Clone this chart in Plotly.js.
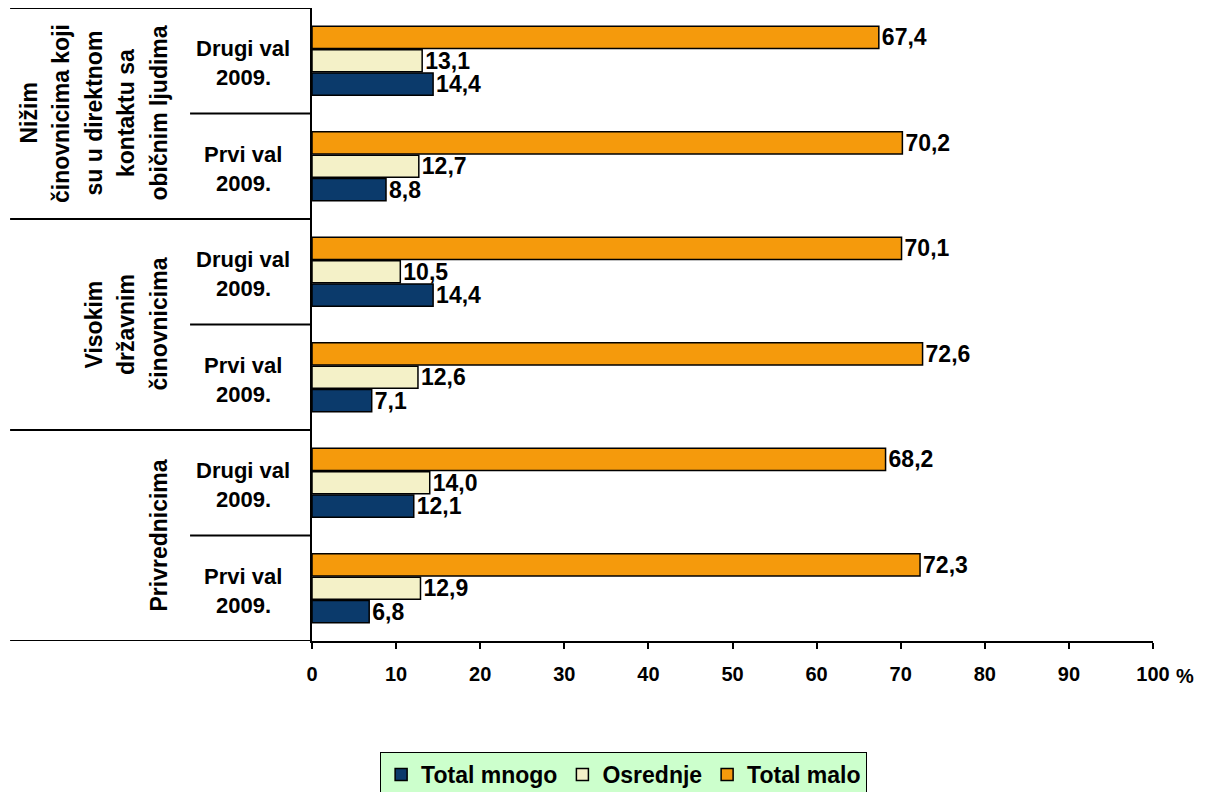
<!DOCTYPE html>
<html>
<head>
<meta charset="utf-8">
<script src="https://cdn.plot.ly/plotly-3.0.1.min.js"></script>
<style>
html,body{margin:0;padding:0;background:#fff;}
#chart{width:1205px;height:792px;}
</style>
</head>
<body>
<div id="chart"></div>
<script>
// Categories, top to bottom as read in the chart
const groupLines = [
  ["Nižim", "činovnicima koji", "su u direktnom", "kontaktu sa", "običnim ljudima"],
  ["Visokim", "državnim", "činovnicima"],
  ["Privrednicima"]
];
const waves = [["Drugi val", "2009."], ["Prvi val", "2009."]];
const categoryIds = [
  "Nižim – Drugi val 2009.", "Nižim – Prvi val 2009.",
  "Visokim – Drugi val 2009.", "Visokim – Prvi val 2009.",
  "Privrednicima – Drugi val 2009.", "Privrednicima – Prvi val 2009."
];
const seriesNames = ["Total mnogo", "Osrednje", "Total malo"];
const totalMnogo = [14.4, 8.8, 14.4, 7.1, 12.1, 6.8];
const osrednje   = [13.1, 12.7, 10.5, 12.6, 14.0, 12.9];
const totalMalo  = [67.4, 70.2, 70.1, 72.6, 68.2, 72.3];
const xTicks = [0, 10, 20, 30, 40, 50, 60, 70, 80, 90, 100];

const seriesValues = [totalMnogo, osrednje, totalMalo];
const seriesColors = ["#0B3A6B", "#F4F1C8", "#F59A0C"];

const FONT = "Liberation Sans, Arial, sans-serif";
const fmt = v => v.toFixed(1).replace('.', ',');

const traces = seriesNames.map((name, s) => ({
  type: 'bar',
  orientation: 'h',
  name: name,
  y: categoryIds,
  x: seriesValues[s],
  text: seriesValues[s].map(fmt),
  textposition: 'outside',
  constraintext: 'none',
  cliponaxis: false,
  textfont: {family: FONT, size: 23, color: '#000', weight: 'bold'},
  marker: {color: seriesColors[s], line: {color: '#000', width: 1.5}},
  hoverinfo: 'x+name'
}));

const annotations = [];
const shapes = [];
// wave (sub-category) labels
categoryIds.forEach((cid, i) => {
  const w = waves[i % 2];
  w.forEach((line, k) => {
    annotations.push({
      xref: 'paper', yref: 'y', x: -0.082, y: cid,
      text: line, showarrow: false, xanchor: 'center', yanchor: 'middle',
      yshift: k === 0 ? 12 : -17,
      font: {family: FONT, size: 22, color: '#000', weight: 'bold'}
    });
  });
});
// group labels (rotated), centered on their pair of categories
groupLines.forEach((lines, g) => {
  const yCenter = 5 - (2 * g + 0.5);
  const n = lines.length;
  lines.forEach((line, k) => {
    annotations.push({
      xref: 'paper', yref: 'y', x: -0.1831, y: yCenter,
      text: line, showarrow: false, textangle: -90,
      xanchor: 'center', yanchor: 'middle',
      xshift: -(n - 1 - k) * 32.5,
      font: {family: FONT, size: 23, color: '#000', weight: 'bold'}
    });
  });
  const yTop = 5.5 - 2 * g;
  shapes.push({type: 'line', xref: 'paper', yref: 'y', x0: -0.359, x1: 0, y0: yTop, y1: yTop,
               line: {color: '#000', width: 2}});
  const yMid = yTop - 1;
  shapes.push({type: 'line', xref: 'paper', yref: 'y', x0: -0.145, x1: 0, y0: yMid, y1: yMid,
               line: {color: '#000', width: 2}});
});
// extension of the category axis line to the left
shapes.push({type: 'line', xref: 'paper', yref: 'y', x0: -0.359, x1: 0, y0: -0.5, y1: -0.5,
             line: {color: '#000', width: 2}});
// percent sign after the last tick
annotations.push({
  xref: 'x', yref: 'paper', x: xTicks[xTicks.length - 1], y: 0, yshift: -35,
  xshift: 32, text: '%', showarrow: false, xanchor: 'center', yanchor: 'middle',
  font: {family: FONT, size: 20, color: '#000', weight: 'bold'}
});

const layout = {
  width: 1205, height: 792,
  margin: {l: 312, r: 52, t: 8, b: 151, autoexpand: false},
  paper_bgcolor: '#fff', plot_bgcolor: '#fff',
  font: {family: FONT, color: '#000'},
  barmode: 'group', bargap: 0.337, bargroupgap: 0.05,
  showlegend: true,
  legend: {
    orientation: 'h', x: 0.081, y: -0.1754, xanchor: 'left', yanchor: 'top',
    bgcolor: '#CCFFCC', bordercolor: '#000', borderwidth: 1,
    font: {family: FONT, size: 23, color: '#000', weight: 'bold'},
    itemwidth: 30, traceorder: 'normal'
  },
  xaxis: {
    range: [0, 100], tickvals: xTicks, ticktext: xTicks.map(String),
    showgrid: false, zeroline: false, showline: true, linecolor: '#000', linewidth: 2,
    ticks: 'outside', ticklen: 6, tickwidth: 2, tickcolor: '#000',
    ticklabelstandoff: 8,
    tickfont: {family: FONT, size: 20, color: '#000', weight: 'bold'},
    fixedrange: true
  },
  yaxis: {
    type: 'category', categoryorder: 'array', categoryarray: categoryIds.slice().reverse(),
    range: [-0.5, 5.5], showticklabels: false, ticks: '', showgrid: false, zeroline: false,
    showline: true, linecolor: '#000', linewidth: 2, fixedrange: true
  },
  annotations: annotations,
  shapes: shapes
};

Plotly.newPlot('chart', traces, layout, {displayModeBar: false, staticPlot: true});
</script>
</body>
</html>
